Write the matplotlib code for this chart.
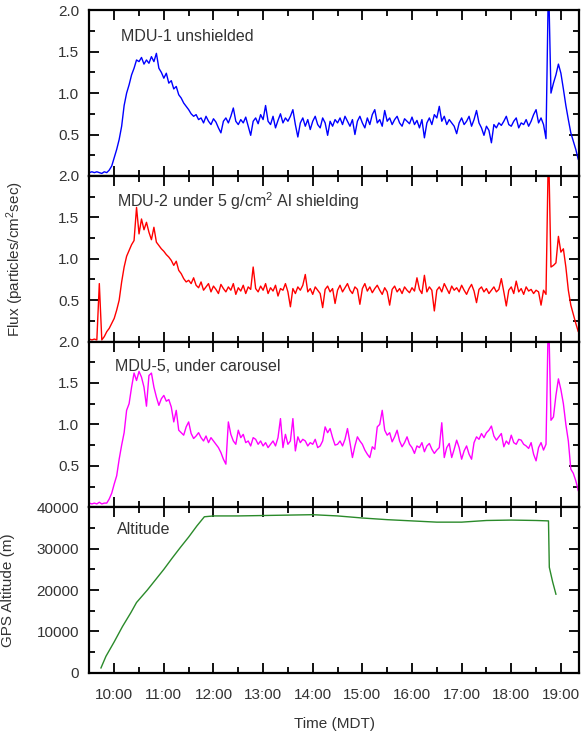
import numpy as np
import matplotlib
matplotlib.use("Agg")
import matplotlib.pyplot as plt
from matplotlib.ticker import MultipleLocator, FuncFormatter

plt.rcParams['font.family'] = ['Liberation Sans', 'DejaVu Sans']
plt.rcParams['mathtext.default'] = 'regular'

# flux samples every 3 minutes starting 9:30 MDT (one row per hour)
mdu1 = [
    0.04, 0.05, 0.04, 0.05, 0.04, 0.03, 0.05, 0.04, 0.07, 0.12, 0.22, 0.32, 0.44, 0.60, 0.85, 1.00, 1.10, 1.22, 1.30, 1.40,
    1.38, 1.43, 1.35, 1.40, 1.36, 1.44, 1.38, 1.48, 1.30, 1.25, 1.18, 1.24, 1.12, 1.15, 1.05, 1.08, 0.98, 0.94, 0.88, 0.84,
    0.80, 0.75, 0.72, 0.74, 0.68, 0.70, 0.64, 0.72, 0.66, 0.62, 0.69, 0.65, 0.58, 0.52, 0.66, 0.70, 0.64, 0.72, 0.82, 0.66,
    0.62, 0.68, 0.64, 0.71, 0.60, 0.49, 0.66, 0.70, 0.63, 0.74, 0.68, 0.85, 0.66, 0.62, 0.72, 0.58, 0.67, 0.75, 0.64, 0.70,
    0.66, 0.72, 0.80, 0.62, 0.47, 0.64, 0.70, 0.60, 0.68, 0.56, 0.66, 0.72, 0.62, 0.58, 0.70, 0.64, 0.49, 0.66, 0.60, 0.68,
    0.64, 0.70, 0.62, 0.72, 0.66, 0.60, 0.68, 0.50, 0.66, 0.72, 0.64, 0.58, 0.70, 0.62, 0.74, 0.80, 0.64, 0.68, 0.60, 0.79,
    0.66, 0.70, 0.62, 0.68, 0.72, 0.64, 0.60, 0.69, 0.66, 0.63, 0.71, 0.62, 0.67, 0.58, 0.68, 0.46, 0.64, 0.70, 0.62, 0.74,
    0.70, 0.84, 0.66, 0.72, 0.62, 0.68, 0.64, 0.60, 0.51, 0.64, 0.70, 0.62, 0.66, 0.72, 0.60, 0.68, 0.79, 0.64, 0.58, 0.49,
    0.60, 0.55, 0.40, 0.62, 0.58, 0.64, 0.61, 0.66, 0.72, 0.62, 0.60, 0.66, 0.70, 0.58, 0.64, 0.62, 0.68, 0.60, 0.66, 0.74,
    0.80, 0.64, 0.70, 0.62, 0.45, 2.40, 1.00, 1.12, 1.22, 1.35, 1.24, 1.05, 0.85, 0.68, 0.52, 0.42, 0.32, 0.20, 0.15, 0.12,
]
mdu2 = [
    0.03, 0.02, 0.03, 0.02, 0.70, 0.02, 0.06, 0.12, 0.16, 0.22, 0.28, 0.38, 0.50, 0.72, 0.90, 1.03, 1.10, 1.17, 1.22, 1.62,
    1.30, 1.48, 1.35, 1.44, 1.32, 1.23, 1.38, 1.20, 1.16, 1.12, 1.09, 1.05, 1.02, 0.98, 0.92, 0.97, 0.86, 0.82, 0.76, 0.72,
    0.74, 0.70, 0.77, 0.68, 0.65, 0.72, 0.62, 0.66, 0.70, 0.60, 0.67, 0.63, 0.58, 0.69, 0.64, 0.60, 0.66, 0.62, 0.70, 0.57,
    0.65, 0.61, 0.68, 0.58, 0.66, 0.63, 0.90, 0.64, 0.60, 0.67, 0.62, 0.70, 0.58, 0.65, 0.61, 0.68, 0.55, 0.64, 0.62, 0.70,
    0.60, 0.42, 0.64, 0.58, 0.66, 0.62, 0.68, 0.81, 0.60, 0.64, 0.57, 0.66, 0.62, 0.58, 0.41, 0.63, 0.67, 0.60, 0.64, 0.46,
    0.62, 0.68, 0.60, 0.65, 0.70, 0.62, 0.58, 0.66, 0.63, 0.45, 0.64, 0.70, 0.61, 0.66, 0.59, 0.64, 0.68, 0.62, 0.57, 0.65,
    0.60, 0.44, 0.63, 0.67, 0.60, 0.64, 0.58, 0.66, 0.62, 0.59, 0.65, 0.61, 0.77, 0.63, 0.58, 0.80, 0.60, 0.66, 0.62, 0.37,
    0.62, 0.66, 0.60, 0.70, 0.64, 0.58, 0.67, 0.62, 0.65, 0.60, 0.68, 0.62, 0.57, 0.64, 0.69, 0.61, 0.47, 0.63, 0.66, 0.60,
    0.64, 0.58, 0.62, 0.66, 0.60, 0.63, 0.76, 0.60, 0.43, 0.62, 0.66, 0.58, 0.73, 0.60, 0.64, 0.57, 0.66, 0.61, 0.63, 0.58,
    0.62, 0.60, 0.44, 0.62, 0.57, 2.40, 0.90, 0.92, 0.95, 1.27, 1.08, 1.12, 0.90, 0.62, 0.44, 0.33, 0.22, 0.12, 0.10, 0.08,
]
mdu5 = [
    0.05, 0.04, 0.05, 0.04, 0.06, 0.04, 0.05, 0.05, 0.10, 0.17, 0.28, 0.38, 0.58, 0.75, 0.90, 1.17, 1.25, 1.45, 1.62, 1.53,
    1.64, 1.57, 1.45, 1.22, 1.59, 1.62, 1.45, 1.33, 1.23, 1.31, 1.35, 1.28, 1.30, 1.21, 1.03, 1.17, 0.93, 0.90, 0.87, 0.97,
    1.03, 0.89, 0.83, 0.86, 0.90, 0.84, 0.80, 0.86, 0.78, 0.84, 0.80, 0.76, 0.72, 0.66, 0.58, 0.52, 1.03, 0.88, 0.80, 0.76,
    0.93, 0.84, 0.88, 0.78, 0.80, 0.74, 0.84, 0.82, 0.76, 0.80, 0.74, 0.78, 0.72, 0.76, 0.80, 0.74, 0.84, 1.07, 0.72, 0.88,
    0.76, 0.80, 1.07, 0.68, 0.85, 0.78, 0.82, 0.80, 0.74, 0.78, 0.76, 0.82, 0.72, 0.74, 0.80, 0.97, 0.90, 0.95, 0.84, 0.75,
    0.76, 0.80, 0.74, 0.82, 0.95, 0.78, 0.60, 0.74, 0.85, 0.80, 0.76, 0.69, 0.64, 0.60, 0.73, 0.70, 0.97, 1.00, 1.17, 0.93,
    0.87, 0.90, 0.79, 0.85, 0.93, 0.80, 0.73, 0.78, 0.85, 0.76, 0.72, 0.65, 0.74, 0.72, 0.78, 0.67, 0.74, 0.77, 0.70, 0.65,
    0.69, 0.72, 1.02, 0.60, 0.72, 0.77, 0.60, 0.70, 0.81, 0.72, 0.58, 0.68, 0.74, 0.64, 0.58, 0.78, 0.85, 0.82, 0.89, 0.84,
    0.90, 0.93, 0.98, 0.86, 0.81, 0.85, 0.89, 0.73, 0.80, 0.76, 0.87, 0.78, 0.76, 0.82, 0.81, 0.76, 0.74, 0.71, 0.78, 0.64,
    0.56, 0.72, 0.78, 0.69, 0.76, 2.40, 1.05, 1.09, 1.35, 1.55, 1.42, 1.25, 1.00, 0.80, 0.46, 0.41, 0.32, 0.20, 0.15, 0.12,
]
flux_start = 9.5        # 9:30
flux_step_min = 3

# GPS altitude track
alt_time = ['9:44', '9:50', '10:00', '10:10', '10:20', '10:27', '10:40', '10:50', '11:00', '11:10',
            '11:20', '11:30', '11:40', '11:49', '12:00', '12:30', '13:00', '13:30', '14:00', '14:30',
            '15:00', '15:30', '16:00', '16:30', '17:00', '17:30', '18:00', '18:30', '18:45', '18:46',
            '18:50', '18:54']
alt_m = [1200, 4000, 7500, 11200, 14500, 17000, 20000, 22500, 25000, 27700,
         30300, 32800, 35500, 37700, 37900, 37900, 38000, 38100, 38200, 37900,
         37400, 37000, 36700, 36400, 36400, 36800, 36900, 36800, 36700, 25500,
         22000, 19000]

panel_labels = ['MDU-1 unshielded', 'MDU-2 under 5 g/cm$^2$ Al shielding',
                'MDU-5, under carousel', 'Altitude']
colors = ['#0000ff', '#ff0000', '#ff00ff', '#2a8a2a']


def hm(s):
    h, m = s.split(':')
    return int(h) + int(m) / 60.0


t_flux = flux_start + np.arange(len(mdu1)) * flux_step_min / 60.0
t_alt = [hm(s) for s in alt_time]

fig, axes = plt.subplots(4, 1, figsize=(5.81, 7.33), dpi=100, sharex=True)
fig.subplots_adjust(left=0.153, right=0.997, top=0.986, bottom=0.082, hspace=0)

series = [mdu1, mdu2, mdu5]
for i in range(3):
    ax = axes[i]
    ax.plot(t_flux, series[i], color=colors[i], lw=1.0)
    ax.set_ylim(0, 2.0)
    ax.yaxis.set_major_locator(MultipleLocator(0.5))
    ax.yaxis.set_minor_locator(MultipleLocator(0.25))
    ax.yaxis.set_major_formatter(FuncFormatter(lambda v, p: '' if v < 0.01 else f'{v:.1f}'))

axes[3].plot(t_alt, alt_m, color=colors[3], lw=1.0)
axes[3].set_ylim(0, 40000)
axes[3].yaxis.set_major_locator(MultipleLocator(10000))
axes[3].yaxis.set_minor_locator(MultipleLocator(5000))

text_pos = [(0.065, 0.84), (0.057, 0.85), (0.053, 0.85), (0.057, 0.865)]
for ax, label, pos in zip(axes, panel_labels, text_pos):
    ax.text(pos[0], pos[1], label, transform=ax.transAxes, fontsize=11.5,
            color='#333333', va='center', ha='left')
    ax.set_xlim(9.49, 19.37)
    ax.xaxis.set_major_locator(MultipleLocator(1))
    ax.xaxis.set_minor_locator(MultipleLocator(0.5))
    ax.tick_params(which='both', direction='in', top=True, right=True,
                   width=1.3, labelsize=11, labelcolor='#333333', pad=7)
    ax.tick_params(which='major', length=7)
    ax.tick_params(which='minor', length=4)
    for sp in ax.spines.values():
        sp.set_linewidth(1.6)

axes[3].xaxis.set_major_formatter(FuncFormatter(lambda v, p: f'{int(round(v))}:00'))
axes[3].tick_params(axis='x', pad=11)
axes[3].set_xlabel('Time (MDT)', fontsize=11, color='#333333', labelpad=11)

fig.text(0.026, (1 - 259 / 733), 'Flux (particles/cm$^2$sec)', rotation=90,
         fontsize=11, color='#333333', ha='center', va='center')
axes[3].set_ylabel('GPS Altitude (m)', fontsize=11, color='#333333')
axes[3].yaxis.set_label_coords(-0.15, 0.5)

fig.savefig('out.png', dpi=100)
